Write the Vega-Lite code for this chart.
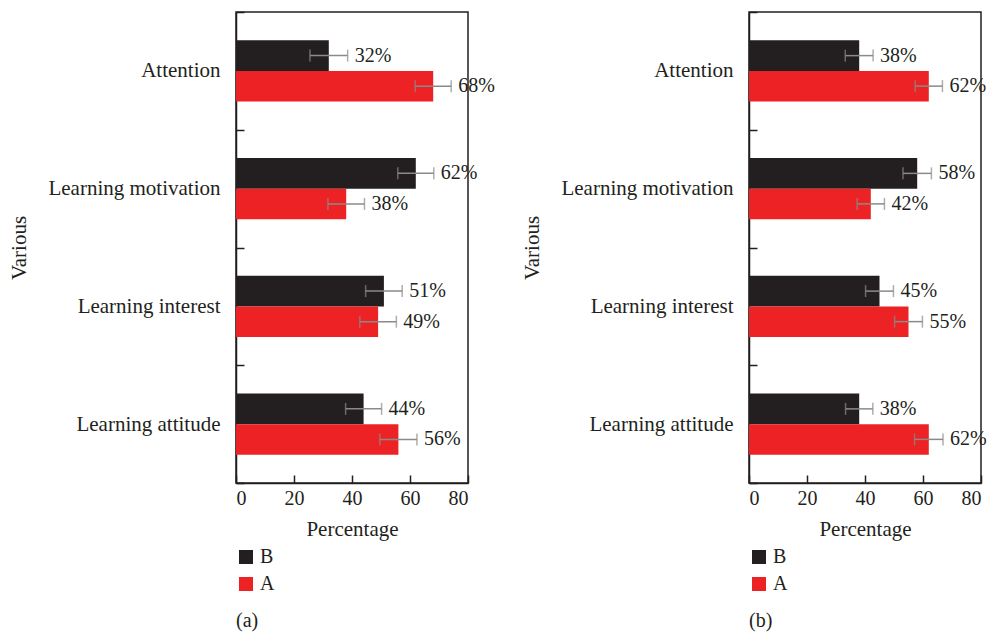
{
  "$schema": "https://vega.github.io/schema/vega-lite/v6.json",
  "background": "white",
  "padding": {"left": 8, "top": 0, "right": 5, "bottom": 5},
  "config": {
    "font": "Liberation Serif",
    "view": {"stroke": "#231f20", "strokeWidth": 1.5},
    "title": {"fontSize": 20, "fontWeight": "normal", "color": "#231f20"},
    "axis": {
      "labelColor": "#231f20", "titleColor": "#231f20", "domainColor": "#231f20", "tickColor": "#231f20",
      "domainWidth": 1.5, "tickWidth": 1.5, "grid": false,
      "labelFontSize": 20, "titleFontSize": 21, "titleFontWeight": "normal"
    },
    "legend": {"labelFontSize": 20, "labelColor": "#231f20"}
  },
  "datasets": {
    "d": [
      {"panel": "a", "category": "Attention", "group": "B", "value": 32, "lo": 25.5, "hi": 38.5, "label": "32%"},
      {"panel": "a", "category": "Attention", "group": "A", "value": 68, "lo": 61.8, "hi": 74.2, "label": "68%"},
      {"panel": "a", "category": "Learning motivation", "group": "B", "value": 62, "lo": 55.8, "hi": 68.2, "label": "62%"},
      {"panel": "a", "category": "Learning motivation", "group": "A", "value": 38, "lo": 31.7, "hi": 44.3, "label": "38%"},
      {"panel": "a", "category": "Learning interest", "group": "B", "value": 51, "lo": 44.7, "hi": 57.3, "label": "51%"},
      {"panel": "a", "category": "Learning interest", "group": "A", "value": 49, "lo": 42.7, "hi": 55.3, "label": "49%"},
      {"panel": "a", "category": "Learning attitude", "group": "B", "value": 44, "lo": 37.8, "hi": 50.2, "label": "44%"},
      {"panel": "a", "category": "Learning attitude", "group": "A", "value": 56, "lo": 49.6, "hi": 62.4, "label": "56%"},
      {"panel": "b", "category": "Attention", "group": "B", "value": 38, "lo": 33.2, "hi": 42.8, "label": "38%"},
      {"panel": "b", "category": "Attention", "group": "A", "value": 62, "lo": 57.3, "hi": 66.7, "label": "62%"},
      {"panel": "b", "category": "Learning motivation", "group": "B", "value": 58, "lo": 53.1, "hi": 62.9, "label": "58%"},
      {"panel": "b", "category": "Learning motivation", "group": "A", "value": 42, "lo": 37.3, "hi": 46.7, "label": "42%"},
      {"panel": "b", "category": "Learning interest", "group": "B", "value": 45, "lo": 40.2, "hi": 49.8, "label": "45%"},
      {"panel": "b", "category": "Learning interest", "group": "A", "value": 55, "lo": 50.2, "hi": 59.8, "label": "55%"},
      {"panel": "b", "category": "Learning attitude", "group": "B", "value": 38, "lo": 33.3, "hi": 42.7, "label": "38%"},
      {"panel": "b", "category": "Learning attitude", "group": "A", "value": 62, "lo": 57.1, "hi": 66.9, "label": "62%"}
    ]
  },
  "spacing": 25,
  "resolve": {"legend": {"color": "independent"}},
  "hconcat": [
    {
      "width": 232, "height": 471,
      "data": {"name": "d"},
      "transform": [{"filter": "datum.panel == 'a'"}],
      "title": {"text": "(a)", "orient": "bottom", "anchor": "start", "frame": "group", "offset": 17},
      "encoding": {
        "y": {"field": "category", "type": "nominal", "sort": ["Attention", "Learning motivation", "Learning interest", "Learning attitude"],
              "scale": {"paddingInner": 0, "paddingOuter": 0},
              "axis": {"title": "Various", "tickBand": "extent", "tickSize": -8, "labelPadding": 24, "titlePadding": 18, "labelFontSize": 21}},
        "yOffset": {"field": "group", "sort": ["B", "A"], "scale": {"paddingInner": 0, "paddingOuter": 0.93}}
      },
      "layer": [
        {"mark": {"type": "bar"},
         "encoding": {
           "x": {"field": "value", "type": "quantitative", "scale": {"domain": [0, 80]}, "title": "Percentage",
                 "axis": {"title": "Percentage", "values": [0, 20, 40, 60, 80], "tickSize": -8, "labelPadding": 13, "titlePadding": 10}},
           "color": {"field": "group", "type": "nominal", "sort": ["B", "A"],
                     "scale": {"domain": ["B", "A"], "range": ["#231f20", "#ed2224"]},
                     "legend": {"title": null, "orient": "bottom", "direction": "vertical", "symbolType": "square", "symbolSize": 196, "symbolStrokeWidth": 0, "offset": 8, "rowPadding": 7}}
         }},
        {"mark": {"type": "errorbar", "color": "#8a8a8a", "ticks": {"size": 12, "thickness": 1.5}, "rule": {"strokeWidth": 1.5}},
         "encoding": {"x": {"field": "lo", "type": "quantitative", "title": "Percentage"}, "x2": {"field": "hi"}}},
        {"mark": {"type": "text", "align": "left", "baseline": "middle", "dx": 7, "fontSize": 20, "color": "#231f20"},
         "encoding": {"x": {"field": "hi", "type": "quantitative", "title": "Percentage"}, "text": {"field": "label"}}}
      ]
    },
    {
      "width": 232, "height": 471,
      "data": {"name": "d"},
      "transform": [{"filter": "datum.panel == 'b'"}],
      "title": {"text": "(b)", "orient": "bottom", "anchor": "start", "frame": "group", "offset": 17},
      "encoding": {
        "y": {"field": "category", "type": "nominal", "sort": ["Attention", "Learning motivation", "Learning interest", "Learning attitude"],
              "scale": {"paddingInner": 0, "paddingOuter": 0},
              "axis": {"title": "Various", "tickBand": "extent", "tickSize": -8, "labelPadding": 24, "titlePadding": 18, "labelFontSize": 21}},
        "yOffset": {"field": "group", "sort": ["B", "A"], "scale": {"paddingInner": 0, "paddingOuter": 0.93}}
      },
      "layer": [
        {"mark": {"type": "bar"},
         "encoding": {
           "x": {"field": "value", "type": "quantitative", "scale": {"domain": [0, 80]}, "title": "Percentage",
                 "axis": {"title": "Percentage", "values": [0, 20, 40, 60, 80], "tickSize": -8, "labelPadding": 13, "titlePadding": 10}},
           "color": {"field": "group", "type": "nominal", "sort": ["B", "A"],
                     "scale": {"domain": ["B", "A"], "range": ["#231f20", "#ed2224"]},
                     "legend": {"title": null, "orient": "bottom", "direction": "vertical", "symbolType": "square", "symbolSize": 196, "symbolStrokeWidth": 0, "offset": 8, "rowPadding": 7}}
         }},
        {"mark": {"type": "errorbar", "color": "#8a8a8a", "ticks": {"size": 12, "thickness": 1.5}, "rule": {"strokeWidth": 1.5}},
         "encoding": {"x": {"field": "lo", "type": "quantitative", "title": "Percentage"}, "x2": {"field": "hi"}}},
        {"mark": {"type": "text", "align": "left", "baseline": "middle", "dx": 7, "fontSize": 20, "color": "#231f20"},
         "encoding": {"x": {"field": "hi", "type": "quantitative", "title": "Percentage"}, "text": {"field": "label"}}}
      ]
    }
  ]
}
